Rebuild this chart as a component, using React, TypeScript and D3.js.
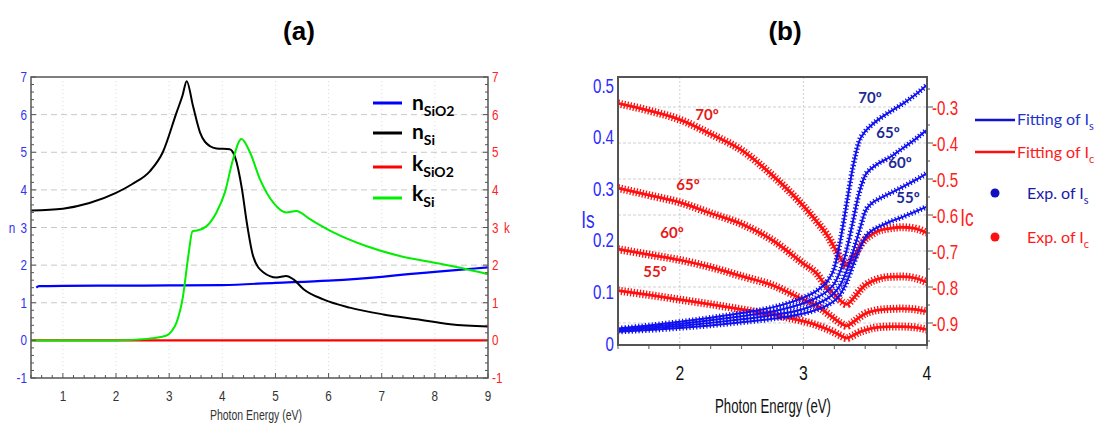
import React from 'react';
import * as d3 from 'd3';

// ---------- Panel (a) data ----------
const eNSiO2 = [0.5, 0.55, 1, 2, 3, 4, 5, 6, 7, 7.5, 8, 8.5, 9];
const nSiO2 = [1.4, 1.44, 1.45, 1.455, 1.46, 1.47, 1.53, 1.59, 1.69, 1.76, 1.82, 1.88, 1.94];

const eNSi = [0.4, 1.0, 1.5, 2.0, 2.3, 2.64, 2.88, 3.14, 3.25, 3.33, 3.45, 3.58, 3.77, 3.89, 4.14, 4.24, 4.37, 4.46, 4.58, 4.77, 5.02, 5.2, 5.34, 5.53, 5.9, 6.4, 7.03, 7.66, 8.29, 9.0];
const nSi = [3.45, 3.5, 3.65, 3.92, 4.15, 4.5, 5.0, 6.06, 6.5, 6.89, 6.22, 5.53, 5.16, 5.1, 5.08, 4.87, 4.02, 3.14, 2.24, 1.81, 1.67, 1.71, 1.62, 1.36, 1.09, 0.87, 0.69, 0.56, 0.43, 0.37];

const eKSiO2 = [0.4, 9];
const kSiO2 = [0, 0];

const eKSi = [0.4, 2.0, 2.4, 2.7, 2.95, 3.05, 3.14, 3.26, 3.36, 3.44, 3.52, 3.7, 3.89, 4.05, 4.2, 4.36, 4.52, 4.71, 4.96, 5.2, 5.39, 5.65, 6.09, 6.72, 7.34, 7.97, 8.6, 9.0];
const kSi = [0, 0, 0.02, 0.06, 0.13, 0.25, 0.48, 1.17, 2.24, 2.9, 2.92, 3.03, 3.4, 3.94, 4.8, 5.35, 5.0, 4.28, 3.66, 3.4, 3.44, 3.22, 2.87, 2.5, 2.24, 2.07, 1.89, 1.76];

const ticksAX = [1, 2, 3, 4, 5, 6, 7, 8, 9];
const ticksAY = [-1, 0, 1, 2, 3, 4, 5, 6, 7];

// ---------- Panel (b) data ----------
const eB = [1.5, 1.75, 2.0, 2.25, 2.5, 2.75, 3.0, 3.1, 3.2, 3.25, 3.3, 3.35, 3.4, 3.45, 3.5, 3.55, 3.6, 3.7, 3.8, 3.9, 4.0];
const is70 = [0.028, 0.034, 0.041, 0.049, 0.058, 0.069, 0.088, 0.1, 0.122, 0.145, 0.2, 0.27, 0.34, 0.39, 0.41, 0.422, 0.432, 0.448, 0.463, 0.48, 0.5];
const is65 = [0.026, 0.031, 0.037, 0.044, 0.052, 0.061, 0.077, 0.087, 0.102, 0.115, 0.14, 0.18, 0.235, 0.29, 0.325, 0.338, 0.347, 0.36, 0.377, 0.394, 0.413];
const is60 = [0.024, 0.028, 0.033, 0.039, 0.046, 0.054, 0.066, 0.075, 0.087, 0.097, 0.113, 0.14, 0.175, 0.215, 0.255, 0.27, 0.278, 0.29, 0.302, 0.315, 0.329];
const is55 = [0.022, 0.025, 0.029, 0.034, 0.04, 0.047, 0.057, 0.064, 0.074, 0.082, 0.095, 0.118, 0.15, 0.18, 0.205, 0.217, 0.224, 0.235, 0.244, 0.254, 0.264];

const ic70 = [-0.29, -0.31, -0.335, -0.375, -0.42, -0.49, -0.575, -0.615, -0.66, -0.69, -0.72, -0.74, -0.72, -0.69, -0.668, -0.655, -0.645, -0.637, -0.634, -0.637, -0.65];
const ic65 = [-0.525, -0.545, -0.565, -0.595, -0.625, -0.67, -0.735, -0.76, -0.805, -0.82, -0.838, -0.848, -0.833, -0.812, -0.795, -0.785, -0.778, -0.772, -0.771, -0.775, -0.787];
const ic60 = [-0.695, -0.71, -0.725, -0.745, -0.77, -0.795, -0.835, -0.85, -0.875, -0.888, -0.9, -0.908, -0.898, -0.885, -0.874, -0.868, -0.864, -0.861, -0.86, -0.862, -0.868];
const ic55 = [-0.81, -0.822, -0.835, -0.848, -0.862, -0.877, -0.895, -0.905, -0.918, -0.926, -0.935, -0.942, -0.935, -0.926, -0.92, -0.915, -0.912, -0.91, -0.91, -0.912, -0.918];

const ticksBX = [2, 3, 4];
const ticksBIs = [0, 0.1, 0.2, 0.3, 0.4, 0.5];
const ticksBIc = [-0.3, -0.4, -0.5, -0.6, -0.7, -0.8, -0.9];
const angleLabels = ['70º', '65º', '60º', '55º'];

const SANS = "'Liberation Sans',Arial,sans-serif";
const CAL = "Lato,'Open Sans',sans-serif";

type NTProps = { x: number; y: number; size: number; fill: string; anchor?: string; sx?: number; children: React.ReactNode };
function NText({ x, y, size, fill, anchor = 'start', sx = 0.78, children }: NTProps) {
  return (
    <text transform={`translate(${x},${y}) scale(${sx},1)`} textAnchor={anchor} fontFamily={SANS} fontSize={size} fill={fill}>
      {children}
    </text>
  );
}

export default function App() {
  // Panel (a)
  const xA = d3.scaleLinear().domain([0.4, 9]).range([31, 488]);
  const yA = d3.scaleLinear().domain([-1, 7]).range([378, 77]);
  const lineA = (xs: number[], ys: number[]) =>
    d3.line<number>().x((_, i) => xA(xs[i])).y((d) => yA(d)).curve(d3.curveMonotoneX)(ys) || '';

  // Panel (b)
  const xB = d3.scaleLinear().domain([1.5, 4]).range([618, 927]);
  const yS = d3.scaleLinear().domain([0, 0.5]).range([343, 85]);
  const yC = d3.scaleLinear().domain([-0.9, -0.3]).range([323, 107]);
  const lineS = (ys: number[]) =>
    d3.line<number>().x((_, i) => xB(eB[i])).y((d) => yS(d)).curve(d3.curveMonotoneX)(ys) || '';
  const lineC = (ys: number[]) =>
    d3.line<number>().x((_, i) => xB(eB[i])).y((d) => yC(d)).curve(d3.curveMonotoneX)(ys) || '';

  const aL = 31, aR = 488, aT = 77, aB = 378;
  const bL = 618, bR = 927, bT = 77, bB = 345;

  const minorAX = d3.range(0.4, 9.0001, 0.2);
  const minorAY = d3.range(-1, 7.0001, 0.2);
  const minorBX = d3.range(1.5, 4.0001, 0.25);
  const minorBC = d3.range(-0.95, -0.2, 0.05);

  const icSeries = [ic70, ic65, ic60, ic55];
  const isSeries = [is70, is65, is60, is55];
  const redLabelPos = [[707, 120], [688, 190], [672, 238], [655, 277]];
  const blueLabelPos = [[870, 103], [888, 138], [900, 168], [908, 203]];

  return (
    <svg width={1097} height={425} style={{ position: 'absolute', left: 0, top: 0, background: '#fff' }}>
      <defs>
        <clipPath id="clipA"><rect x={aL} y={aT} width={aR - aL} height={aB - aT} /></clipPath>
        <clipPath id="clipB"><rect x={bL} y={bT} width={bR - bL} height={bB - bT} /></clipPath>
      </defs>
      <rect x={0} y={0} width={1097} height={425} fill="#fff" />

      {/* Titles */}
      <text x={299} y={40} textAnchor="middle" fontFamily={SANS} fontWeight="bold" fontSize={26}>(a)</text>
      <text x={785} y={40} textAnchor="middle" fontFamily={SANS} fontWeight="bold" fontSize={26}>(b)</text>

      {/* ---------- Panel (a) ---------- */}
      <g>
        {ticksAY.filter((t) => t > -1 && t < 7).map((t) => (
          <line key={'ga' + t} x1={aL} x2={aR} y1={yA(t)} y2={yA(t)} stroke="#c8c8c8" strokeDasharray="6,4" strokeWidth={1} />
        ))}
        {ticksAX.filter((t) => t < 9).map((t) => (
          <line key={'gv' + t} x1={xA(t)} x2={xA(t)} y1={aT} y2={aB} stroke="#dcdcdc" strokeDasharray="1,3" strokeWidth={1} />
        ))}
        <g clipPath="url(#clipA)">
          <path d={lineA(eKSiO2, kSiO2)} fill="none" stroke="#ff0000" strokeWidth={2.2} />
          <path d={lineA(eNSiO2, nSiO2)} fill="none" stroke="#0000ff" strokeWidth={2.2} />
          <path d={lineA(eNSi, nSi)} fill="none" stroke="#000000" strokeWidth={2} />
          <path d={lineA(eKSi, kSi)} fill="none" stroke="#00ee00" strokeWidth={2} />
        </g>
        <rect x={aL} y={aT} width={aR - aL} height={aB - aT} fill="none" stroke="#555" strokeWidth={1.5} />
        {minorAX.map((t, i) => (
          <line key={'mx' + i} x1={xA(t)} x2={xA(t)} y1={aB} y2={aB - (Math.abs(t - Math.round(t)) < 0.01 ? 5 : 3)} stroke="#555" />
        ))}
        {minorAY.map((t, i) => (
          <g key={'my' + i}>
            <line x1={aL} x2={aL + (Math.abs(t - Math.round(t)) < 0.01 ? 5 : 3)} y1={yA(t)} y2={yA(t)} stroke="#555" />
            <line x1={aR} x2={aR - (Math.abs(t - Math.round(t)) < 0.01 ? 5 : 3)} y1={yA(t)} y2={yA(t)} stroke="#555" />
          </g>
        ))}
        {ticksAY.map((t) => (
          <NText key={'la' + t} x={27} y={yA(t) + 5} anchor="end" size={15} fill="#3333ee">{t}</NText>
        ))}
        {ticksAY.map((t) => (
          <NText key={'ra' + t} x={492} y={yA(t) + 5} size={15} fill="#ff2222">{t}</NText>
        ))}
        {ticksAX.map((t) => (
          <NText key={'xa' + t} x={xA(t)} y={401} anchor="middle" size={15} fill="#333">{t}</NText>
        ))}
        <NText x={12} y={yA(3) + 5} anchor="middle" size={15} fill="#3333ee">n</NText>
        <NText x={507} y={yA(3) + 5} anchor="middle" size={15} fill="#ff2222">k</NText>
        <NText x={256} y={420} anchor="middle" size={14} sx={0.75} fill="#333">Photon Energy (eV)</NText>

        {/* legend (a) */}
        {[
          { c: '#0000ff', m: 'n', s: 'SiO2', y: 103, b: 110 },
          { c: '#000000', m: 'n', s: 'Si', y: 133, b: 139 },
          { c: '#ff0000', m: 'k', s: 'SiO2', y: 167, b: 171 },
          { c: '#00ee00', m: 'k', s: 'Si', y: 198, b: 201 },
        ].map((l, i) => (
          <g key={'lg' + i}>
            <line x1={373} x2={402} y1={l.y} y2={l.y} stroke={l.c} strokeWidth={3} />
            <text x={412} y={l.b} fontFamily={CAL} fontWeight="bold" fontSize={21} fill="#000">
              {l.m}
              <tspan dy={6} fontSize={14}>{l.s}</tspan>
            </text>
          </g>
        ))}
      </g>

      {/* ---------- Panel (b) ---------- */}
      <g>
        {ticksBIc.map((t) => (
          <line key={'gb' + t} x1={bL} x2={bR} y1={yC(t)} y2={yC(t)} stroke="#cfcfcf" strokeDasharray="3,2" strokeWidth={1} />
        ))}
        {ticksBX.filter((t) => t < 4).map((t) => (
          <line key={'gbv' + t} x1={xB(t)} x2={xB(t)} y1={bT} y2={bB} stroke="#cfcfcf" strokeDasharray="2,2" strokeWidth={1} />
        ))}
        <g clipPath="url(#clipB)">
          {icSeries.map((s, i) => (
            <g key={'ic' + i}>
              <path d={lineC(s)} fill="none" stroke="#ff1010" strokeWidth={8} strokeDasharray="1.3,1.8" />
              <path d={lineC(s)} fill="none" stroke="#ff1010" strokeWidth={2.8} />
            </g>
          ))}
          {isSeries.map((s, i) => (
            <g key={'is' + i}>
              <path d={lineS(s)} fill="none" stroke="#1010f0" strokeWidth={5.5} strokeDasharray="1.2,2.2" />
              <path d={lineS(s)} fill="none" stroke="#1010f0" strokeWidth={2} />
            </g>
          ))}
        </g>
        <rect x={bL} y={bT} width={bR - bL} height={bB - bT} fill="none" stroke="#555" strokeWidth={2} />
        {minorBX.map((t, i) => (
          <line key={'bmx' + i} x1={xB(t)} x2={xB(t)} y1={bB} y2={bB + 4} stroke="#555" />
        ))}
        {minorBC.map((t, i) => (
          <line key={'bmc' + i} x1={bR} x2={bR + (Math.abs(t * 10 - Math.round(t * 10)) < 0.01 ? 6 : 3)} y1={yC(t)} y2={yC(t)} stroke="#555" />
        ))}
        {ticksBIs.map((t) => (
          <NText key={'bls' + t} x={614} y={yS(t) + 7.5} anchor="end" size={21} sx={0.72} fill="#2b2bff">{t}</NText>
        ))}
        {ticksBIc.map((t) => (
          <NText key={'blc' + t} x={932} y={yC(t) + 7.5} size={21} sx={0.72} fill="#ff2020">{t}</NText>
        ))}
        {ticksBX.map((t) => (
          <NText key={'bx' + t} x={xB(t)} y={380} anchor="middle" size={21} sx={0.75} fill="#111">{t}</NText>
        ))}
        <NText x={588} y={228} anchor="middle" size={23} sx={0.75} fill="#2b2bff">Is</NText>
        <NText x={967} y={226} anchor="middle" size={23} sx={0.75} fill="#ff2020">Ic</NText>
        <NText x={773} y={413} anchor="middle" size={20} sx={0.66} fill="#111">Photon Energy (eV)</NText>

        {angleLabels.map((a, i) => (
          <text key={'ra' + i} x={redLabelPos[i][0]} y={redLabelPos[i][1]} textAnchor="middle" fontFamily={CAL} fontWeight="bold" fontSize={15} fill="#e81818">{a}</text>
        ))}
        {angleLabels.map((a, i) => (
          <text key={'ba' + i} x={blueLabelPos[i][0]} y={blueLabelPos[i][1]} textAnchor="middle" fontFamily={CAL} fontWeight="bold" fontSize={15} fill="#1c2a96">{a}</text>
        ))}

        {/* legend (b) */}
        <line x1={975} x2={1015} y1={120} y2={120} stroke="#1010d0" strokeWidth={2.5} />
        <text x={1017} y={125} fontFamily={CAL} fontSize={16} fill="#2233cc">Fitting of I<tspan dy={5} fontSize={11}>s</tspan></text>
        <line x1={975} x2={1015} y1={152} y2={152} stroke="#ff1010" strokeWidth={2.5} />
        <text x={1017} y={158} fontFamily={CAL} fontSize={16} fill="#ff1a1a">Fitting of I<tspan dy={5} fontSize={11}>c</tspan></text>
        <circle cx={995} cy={193} r={4.5} fill="#1010c0" />
        <text x={1027} y={199} fontFamily={CAL} fontSize={16} fill="#1a1aaa">Exp. of I<tspan dy={5} fontSize={11}>s</tspan></text>
        <circle cx={995} cy={237} r={4.5} fill="#ff1010" />
        <text x={1027} y={243} fontFamily={CAL} fontSize={16} fill="#ff1a1a">Exp. of I<tspan dy={5} fontSize={11}>c</tspan></text>
      </g>
    </svg>
  );
}
